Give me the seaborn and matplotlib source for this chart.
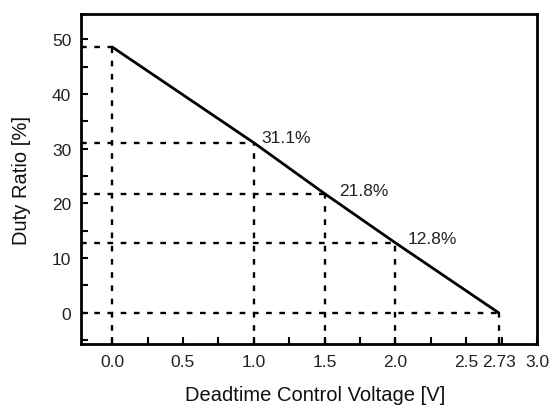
import matplotlib
matplotlib.use("Agg")
import matplotlib.pyplot as plt
import seaborn as sns
import pandas as pd
from matplotlib.ticker import MultipleLocator

voltage = [0.0, 1.0, 1.5, 2.0, 2.73]
duty = [48.6, 31.1, 21.8, 12.8, 0.0]
marked_v = [0.0, 1.0, 1.5, 2.0, 2.73]
marked_d = [48.6, 31.1, 21.8, 12.8, 0.0]
labels = ["31.1%", "21.8%", "12.8%"]
label_v = [1.0, 1.5, 2.0]
label_d = [31.1, 21.8, 12.8]
xticks = [0.0, 0.5, 1.0, 1.5, 2.0, 2.5, 2.73, 3.0]
xticklabels = ["0.0", "0.5", "1.0", "1.5", "2.0", "2.5", "2.73", "3.0"]
yticks = [0, 10, 20, 30, 40, 50]

sns.set_style("ticks")
plt.rcParams["font.family"] = ["Liberation Sans", "DejaVu Sans"]

fig = plt.figure(figsize=(5.53, 4.10), dpi=100)
ax = fig.add_axes([0.1465, 0.1585, 0.8245, 0.8045])

df = pd.DataFrame({"V": voltage, "D": duty})
sns.lineplot(data=df, x="V", y="D", ax=ax, color="black", linewidth=2.0, sort=False)

xmin, xmax = -0.22, 2.98
ymin, ymax = -5.7, 54.6
for v, d in zip(marked_v, marked_d):
    ax.plot([xmin, v], [d, d], linestyle=(0, (2.4, 3.2)), color="black", linewidth=1.7, zorder=1)
    ax.plot([v, v], [ymin, d], linestyle=(0, (2.4, 3.2)), color="black", linewidth=1.7, zorder=1)

offsets = [(0.056, 1.0), (0.10, 0.55), (0.085, 0.7)]
for t, v, d, (dx, dy) in zip(labels, label_v, label_d, offsets):
    ax.text(v + dx, d + dy, t, fontsize=12.5, color="#222222", va="center", ha="left")

ax.set_xlim(xmin, xmax)
ax.set_ylim(ymin, ymax)
ax.set_xticks(xticks)
ax.set_xticklabels(xticklabels)
ax.xaxis.set_minor_locator(MultipleLocator(0.25))
ax.set_yticks(yticks)
ax.yaxis.set_minor_locator(MultipleLocator(5))
ax.tick_params(which="both", direction="in", width=1.5, length=5, labelsize=12.5,
               colors="black", labelcolor="#222222")
ax.tick_params(axis="x", pad=7)
ax.tick_params(axis="y", pad=7)
for s in ax.spines.values():
    s.set_linewidth(2)
    s.set_color("black")
    s.set_visible(True)
ax.set_xlabel("Deadtime Control Voltage [V]", fontsize=14.5, labelpad=12, color="#111111")
ax.set_ylabel("Duty Ratio [%]", fontsize=14.5, labelpad=15, color="#111111")
ax.xaxis.label.set_x(0.513)

fig.savefig("out.png", dpi=100)
